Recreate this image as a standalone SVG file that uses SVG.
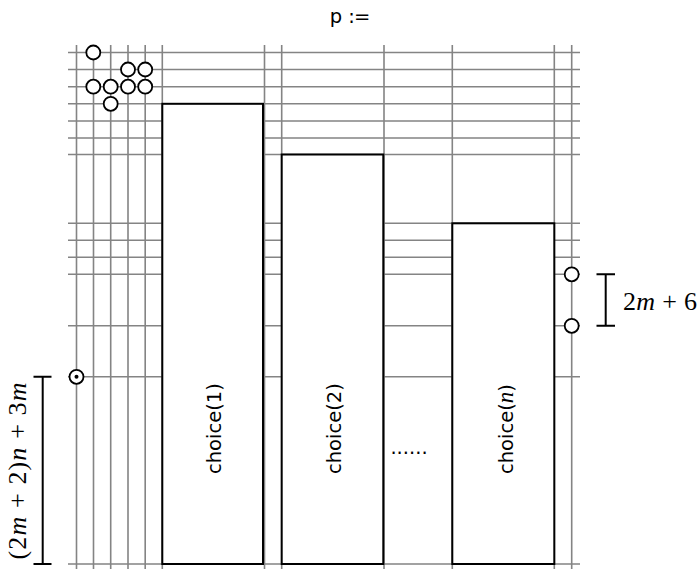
<svg xmlns="http://www.w3.org/2000/svg" width="698" height="569" viewBox="0 0 698 569">
<style>
.g{stroke:#848484;stroke-width:1.6;fill:none}
.box{fill:#fff;stroke:#000;stroke-width:2}
.c{fill:#fff;stroke:#000;stroke-width:1.8}
.br{stroke:#000;stroke-width:2;fill:none}
.sans{font-family:"DejaVu Sans",sans-serif;font-size:19.5px;fill:#000}
.math{font-family:"Liberation Serif",serif;font-size:26px;fill:#000}
</style>
<rect width="698" height="569" fill="#fff"/>
<text class="sans" x="350" y="23" text-anchor="middle">p :<tspan dx="-1">=</tspan></text>
<g id="grid" class="g">
<path d="M76.5 45V572M93.5 45V572M110.7 45V572M128 45V572M145.2 45V572M162.3 45V572M264.5 45V572M281.7 45V572M384 45V572M452.3 45V572M554.3 45V572M571.7 45V572"/>
<path d="M68 52.5H580M68 69.5H580M68 86.7H580M68 103.8H580M68 121H580M68 138H580M68 154.5H580M68 223.3H580M68 240.3H580M68 257.3H580M68 274.3H580M68 325.8H580M68 376.8H580M68 564H580"/>
</g>
<g id="choice1"><rect class="box" x="162.3" y="103.8" width="100.7" height="460.2"/>
<text class="sans" transform="translate(220.5,474) rotate(-90)">choice(1)</text></g>
<g id="choice2"><rect class="box" x="281.7" y="154.5" width="101.6" height="409.5"/>
<text class="sans" transform="translate(340.5,474) rotate(-90)">choice(2)</text></g>
<g id="choicen"><rect class="box" x="452.3" y="223.3" width="102" height="340.7"/>
<text class="sans" transform="translate(512.5,474) rotate(-90)">choice(<tspan font-family="Liberation Serif" font-style="italic" font-size="23">n</tspan>)</text></g>
<text id="dots" class="sans" x="409" y="454" text-anchor="middle">......</text>
<g id="tokens">
<circle class="c" cx="93.3" cy="52.5" r="7"/>
<circle class="c" cx="128" cy="69.5" r="7"/>
<circle class="c" cx="145.2" cy="69.5" r="7"/>
<circle class="c" cx="93.3" cy="86.7" r="7"/>
<circle class="c" cx="110.7" cy="86.7" r="7"/>
<circle class="c" cx="128" cy="86.7" r="7"/>
<circle class="c" cx="145.2" cy="86.7" r="7"/>
<circle class="c" cx="110.7" cy="103.8" r="7"/>
<circle class="c" cx="571.7" cy="274.3" r="7"/>
<circle class="c" cx="571.7" cy="325.8" r="7"/>
<circle class="c" cx="76.5" cy="376.8" r="7"/>
<circle cx="76.5" cy="376.8" r="2" fill="#000"/>
</g>
<g id="brackets" class="br">
<path d="M42.7 376.8V564M33.5 376.8H51.5M33.5 564H51.5"/>
<path d="M605.7 274.3V325.8M596.5 274.3H615M596.5 325.8H615"/>
</g>
<text class="math" transform="translate(26,471) rotate(-90)" text-anchor="middle" textLength="177" lengthAdjust="spacing">(2<tspan font-style="italic">m</tspan> + 2)<tspan font-style="italic">n</tspan> + 3<tspan font-style="italic">m</tspan></text>
<text class="math" x="623" y="310" textLength="74" lengthAdjust="spacing">2<tspan font-style="italic">m</tspan> + 6</text>
</svg>
